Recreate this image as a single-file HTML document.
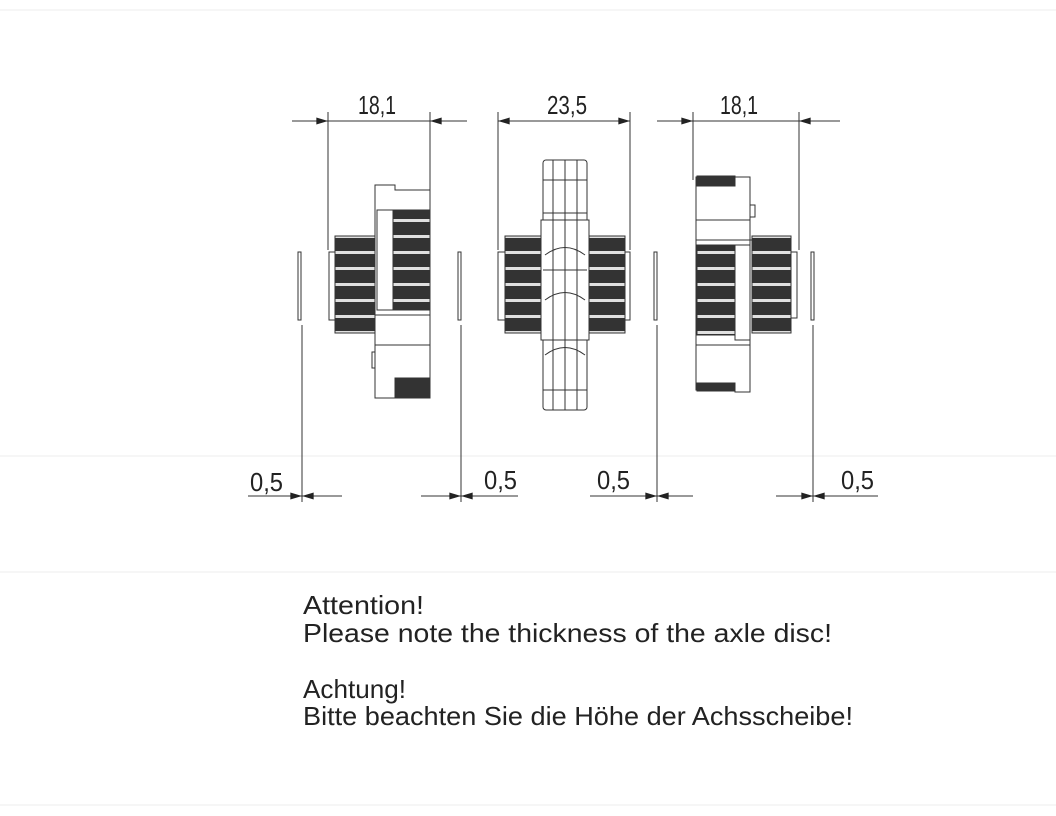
<!DOCTYPE html>
<html><head><meta charset="utf-8"><style>
html,body{margin:0;padding:0;background:#fff}
svg{display:block}
text{font-family:"Liberation Sans",sans-serif;fill:#222}
</style></head><body>
<svg width="1056" height="816" viewBox="0 0 1056 816" xmlns="http://www.w3.org/2000/svg">
<defs>
<pattern id="teeth" width="10" height="16" patternUnits="userSpaceOnUse">
<rect width="10" height="16" fill="#333"/>
<rect y="11" width="10" height="3" fill="#e0e0e0"/>
</pattern>
<marker id="a" viewBox="0 0 10 6" refX="10" refY="3" markerWidth="15" markerHeight="7" markerUnits="userSpaceOnUse" orient="auto"><path d="M0,0 L10,3 L0,6z" fill="#222"/></marker>
</defs>
<rect width="1056" height="816" fill="#fff"/>
<g stroke="#ececec" stroke-width="1">
<line x1="0" y1="10" x2="1056" y2="10"/><line x1="0" y1="456" x2="1056" y2="456"/>
<line x1="0" y1="572" x2="1056" y2="572"/><line x1="0" y1="805" x2="1056" y2="805"/>
</g>
<g stroke="#333" stroke-width="1" fill="none">
<line x1="328" y1="112" x2="328" y2="250"/><line x1="430" y1="112" x2="430" y2="190"/>
<line x1="292" y1="121" x2="328" y2="121" marker-end="url(#a)"/><line x1="467" y1="121" x2="430" y2="121" marker-end="url(#a)"/>
<line x1="328" y1="121" x2="430" y2="121"/>
<line x1="498" y1="112" x2="498" y2="250"/><line x1="630" y1="112" x2="630" y2="250"/>
<line x1="564" y1="121" x2="498" y2="121" marker-end="url(#a)"/><line x1="564" y1="121" x2="630" y2="121" marker-end="url(#a)"/>
<line x1="693" y1="112" x2="693" y2="180"/><line x1="799" y1="112" x2="799" y2="250"/>
<line x1="657" y1="121" x2="693" y2="121" marker-end="url(#a)"/><line x1="840" y1="121" x2="799" y2="121" marker-end="url(#a)"/>
<line x1="693" y1="121" x2="799" y2="121"/>
<line x1="302" y1="325" x2="302" y2="502"/><line x1="461" y1="325" x2="461" y2="502"/>
<line x1="657" y1="325" x2="657" y2="502"/><line x1="813" y1="325" x2="813" y2="502"/>
<rect x="298" y="252" width="3" height="68"/><rect x="458" y="252" width="3" height="68"/>
<rect x="654" y="252" width="3" height="68"/><rect x="811" y="252" width="3" height="68"/>
<line x1="248" y1="496" x2="302" y2="496" marker-end="url(#a)"/><line x1="342" y1="496" x2="302" y2="496" marker-end="url(#a)"/>
<line x1="421" y1="496" x2="461" y2="496" marker-end="url(#a)"/><line x1="518" y1="496" x2="461" y2="496" marker-end="url(#a)"/>
<line x1="590" y1="496" x2="657" y2="496" marker-end="url(#a)"/><line x1="693" y1="496" x2="657" y2="496" marker-end="url(#a)"/>
<line x1="776" y1="496" x2="813" y2="496" marker-end="url(#a)"/><line x1="878" y1="496" x2="813" y2="496" marker-end="url(#a)"/>
</g>
<g font-size="26">
<text x="358" y="114" textLength="38" lengthAdjust="spacingAndGlyphs">18,1</text>
<text x="547" y="114" textLength="40" lengthAdjust="spacingAndGlyphs">23,5</text>
<text x="720" y="114" textLength="38" lengthAdjust="spacingAndGlyphs">18,1</text>
<text x="250" y="491" textLength="33" lengthAdjust="spacingAndGlyphs">0,5</text>
<text x="484" y="489" textLength="33" lengthAdjust="spacingAndGlyphs">0,5</text>
<text x="597" y="489" textLength="33" lengthAdjust="spacingAndGlyphs">0,5</text>
<text x="841" y="489" textLength="33" lengthAdjust="spacingAndGlyphs">0,5</text>
</g>
<g stroke="#333" stroke-width="1">
<rect x="329" y="252" width="6" height="68" fill="#fff"/>
<rect x="335" y="236" width="40" height="97" fill="url(#teeth)"/>
<path d="M375 185 H395 V190 H430 V398 H375 Z" fill="#fff"/>
<rect x="377" y="210" width="16" height="100" fill="#fff"/>
<rect x="393" y="210" width="37" height="100" fill="url(#teeth)"/>
<rect x="395" y="378" width="35" height="20" fill="#333"/>
<line x1="375" y1="315" x2="430" y2="315"/><line x1="375" y1="345" x2="430" y2="345"/>
<rect x="372" y="352" width="3" height="16" fill="#fff"/>
</g>
<g stroke="#333" stroke-width="1" fill="#fff">
<rect x="498" y="252" width="7" height="68"/><rect x="625" y="252" width="5" height="68"/>
<rect x="505" y="236" width="40" height="97" fill="url(#teeth)"/>
<rect x="585" y="236" width="40" height="97" fill="url(#teeth)"/>
<rect x="543" y="160" width="44" height="250" rx="3"/>
<rect x="541" y="220" width="48" height="120"/>
<line x1="543" y1="213" x2="587" y2="213"/><line x1="543" y1="270" x2="587" y2="270"/>
<line x1="543" y1="340" x2="587" y2="340"/><line x1="543" y1="180" x2="587" y2="180"/>
<line x1="543" y1="390" x2="587" y2="390"/><line x1="565" y1="160" x2="565" y2="410"/>
<line x1="553" y1="160" x2="553" y2="410"/><line x1="577" y1="160" x2="577" y2="410"/>
<path d="M545 255 Q565 240 585 255 M545 300 Q565 285 585 300 M545 355 Q565 340 585 355" fill="none"/>
</g>
<g stroke="#333" stroke-width="1">
<path d="M696 177 H750 V392 H735 V390 H696 Z" fill="#fff"/>
<rect x="697" y="176" width="38" height="10" fill="#333"/>
<rect x="697" y="383" width="38" height="8" fill="#333"/>
<rect x="750" y="205" width="5" height="12" fill="#fff"/>
<line x1="696" y1="220" x2="750" y2="220"/><line x1="696" y1="240" x2="752" y2="240"/>
<rect x="697" y="245" width="38" height="90" fill="url(#teeth)"/>
<rect x="735" y="245" width="15" height="95" fill="#fff"/>
<rect x="752" y="236" width="39" height="97" fill="url(#teeth)"/>
<rect x="791" y="252" width="6" height="66" fill="#fff"/>
<line x1="696" y1="345" x2="750" y2="345"/>
</g>
<g font-size="26">
<text x="303" y="614" textLength="121" lengthAdjust="spacingAndGlyphs">Attention!</text>
<text x="303" y="642" textLength="529" lengthAdjust="spacingAndGlyphs">Please note the thickness of the axle disc!</text>
<text x="303" y="698" textLength="103" lengthAdjust="spacingAndGlyphs">Achtung!</text>
<text x="303" y="725" textLength="550" lengthAdjust="spacingAndGlyphs">Bitte beachten Sie die Höhe der Achsscheibe!</text>
</g>
</svg>
</body></html>
